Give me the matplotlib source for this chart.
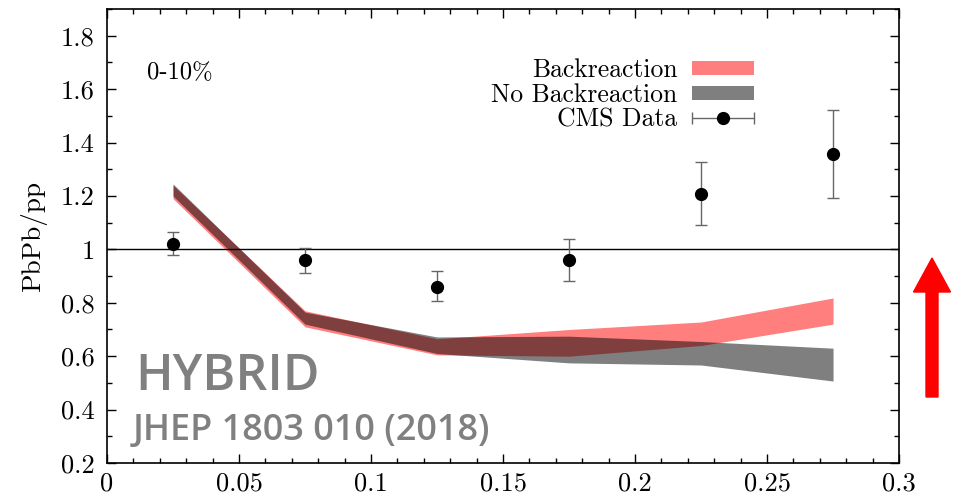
import matplotlib
matplotlib.use("Agg")
import matplotlib.pyplot as plt
from matplotlib.patches import Patch, FancyArrow
from matplotlib.container import ErrorbarContainer
from matplotlib.legend_handler import HandlerErrorbar
from matplotlib.ticker import MultipleLocator

plt.rcParams['font.family'] = ['cmr10', 'DejaVu Serif']
plt.rcParams['mathtext.fontset'] = 'cm'
plt.rcParams['axes.unicode_minus'] = False
plt.rcParams['axes.formatter.use_mathtext'] = True

# theory bands (lower, upper) at bin centres
x_bins = [0.025, 0.075, 0.125, 0.175, 0.225, 0.275]
back_lo = [1.19, 0.71, 0.605, 0.60, 0.64, 0.72]
back_hi = [1.24, 0.77, 0.665, 0.70, 0.728, 0.818]
noback_lo = [1.20, 0.72, 0.61, 0.575, 0.567, 0.507]
noback_hi = [1.245, 0.765, 0.672, 0.675, 0.655, 0.63]

# CMS data
cms_x = [0.025, 0.075, 0.125, 0.175, 0.225, 0.275]
cms_y = [1.02, 0.96, 0.86, 0.96, 1.207, 1.357]
cms_lo = [0.98, 0.91, 0.805, 0.88, 1.091, 1.192]
cms_hi = [1.065, 1.005, 0.92, 1.04, 1.327, 1.522]

x_ticks = [0, 0.05, 0.1, 0.15, 0.2, 0.25, 0.3]
x_tick_labels = ["0", "0.05", "0.1", "0.15", "0.2", "0.25", "0.3"]
y_ticks = [0.2, 0.4, 0.6, 0.8, 1.0, 1.2, 1.4, 1.6, 1.8]
y_tick_labels = ["0.2", "0.4", "0.6", "0.8", "1", "1.2", "1.4", "1.6", "1.8"]


def main():
    fig = plt.figure(figsize=(9.54, 4.96), dpi=100)
    ax = fig.add_axes([0.1122, 0.0665, 0.8302, 0.9153])

    ax.fill_between(x_bins, back_lo, back_hi, color='red', alpha=0.5, lw=0)
    ax.fill_between(x_bins, noback_lo, noback_hi, color='black', alpha=0.5, lw=0)

    ax.axhline(1.0, color='black', lw=1.0, zorder=1)

    yerr = [[y - lo for y, lo in zip(cms_y, cms_lo)],
            [hi - y for y, hi in zip(cms_y, cms_hi)]]
    eb = ax.errorbar(cms_x, cms_y, yerr=yerr, fmt='o', color='black', ms=8.5,
                     ecolor='#666666', elinewidth=1.0, capsize=4, capthick=1.0, zorder=5)

    ax.set_xlim(0, 0.3)
    ax.set_ylim(0.2, 1.9)
    ax.set_xticks(x_ticks)
    ax.set_xticklabels(x_tick_labels)
    ax.set_yticks(y_ticks)
    ax.set_yticklabels(y_tick_labels)
    ax.xaxis.set_minor_locator(MultipleLocator(0.01))
    ax.yaxis.set_minor_locator(MultipleLocator(0.1))
    ax.tick_params(which='both', direction='in', top=True, right=True, labelsize=19)
    ax.tick_params(which='major', length=6.5, width=1.0)
    ax.tick_params(axis='y', which='major', pad=9)
    ax.tick_params(axis='x', which='major', pad=6)
    ax.tick_params(which='minor', length=3.5, width=1.0)
    for s in ax.spines.values():
        s.set_linewidth(1.2)

    ax.set_ylabel('PbPb/pp', fontsize=19.5, labelpad=10)

    ax.text(0.05, 0.859, '0-10%', transform=ax.transAxes, fontsize=17.7, va='center')

    proxy = ErrorbarContainer(eb.lines, has_xerr=True, has_yerr=False, label='CMS Data')
    handles = [Patch(facecolor='red', alpha=0.5, lw=0),
               Patch(facecolor='black', alpha=0.5, lw=0),
               proxy]
    labels = ['Backreaction', 'No Backreaction', 'CMS Data']
    ax.legend(handles, labels, loc='upper right', bbox_to_anchor=(0.817, 0.891),
              frameon=False, markerfirst=False, fontsize=18.5, handlelength=2.4,
              handleheight=0.47, handletextpad=0.58, labelspacing=0.03, borderaxespad=0,
              borderpad=0, handler_map={proxy: HandlerErrorbar(xerr_size=1.2)})

    ax.text(0.035, 0.161, 'HYBRID', transform=ax.transAxes, fontsize=36,
            family='Open Sans', weight='semibold', color='#808080', va='baseline')
    ax.text(0.033, 0.05, 'JHEP 1803 010 (2018)', transform=ax.transAxes, fontsize=26,
            family='Open Sans', weight='semibold', color='#808080', va='baseline')

    arrow = FancyArrow(9.32, 0.99, 0, 1.39, width=0.12, head_width=0.37, head_length=0.34,
                       length_includes_head=True, color='red', transform=fig.dpi_scale_trans)
    fig.patches.append(arrow)

    fig.savefig('out.png', dpi=100)


if __name__ == "__main__":
    main()
